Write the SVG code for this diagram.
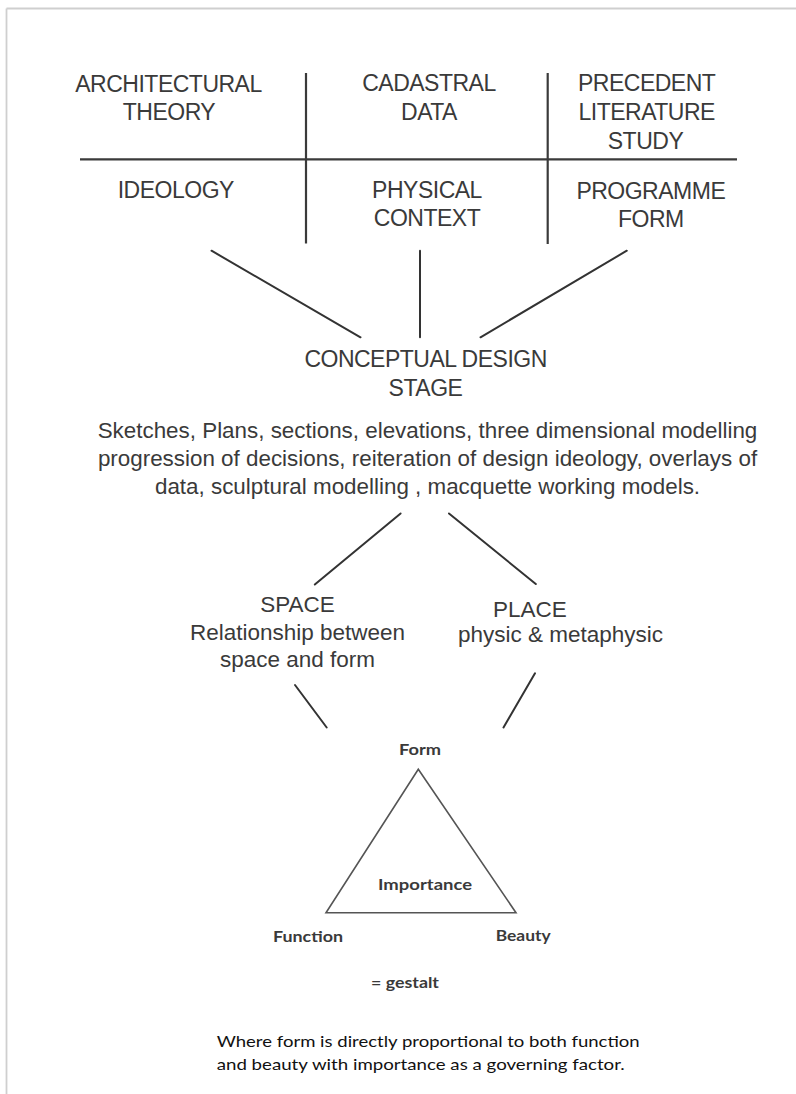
<svg xmlns="http://www.w3.org/2000/svg" width="796" height="1094" viewBox="0 0 796 1094">
<style>
.bg{fill:#ffffff}
.frame{stroke:#cfcfcf;stroke-width:1.8;fill:none}
.grid{stroke:#3a3a3a;stroke-width:2.2;fill:none}
.conn{stroke:#333333;stroke-width:2;fill:none;stroke-linecap:round}
.tri{stroke:#555555;stroke-width:1.6;fill:none;stroke-linejoin:miter}
.h{font-family:"Liberation Sans",Arial,sans-serif;font-size:23px;letter-spacing:-0.5px;fill:#3a3a3a;text-anchor:middle}
.p{font-family:"Liberation Sans",Arial,sans-serif;font-size:22.4px;fill:#3a3a3a;text-anchor:middle}
.s{font-family:"Liberation Sans",Arial,sans-serif;font-size:22.5px;fill:#3a3a3a;text-anchor:middle}
.c{font-family:Lato,"Open Sans",sans-serif;font-size:15.5px;font-weight:bold;fill:#3a3a3a}
.n{font-family:Lato,"Open Sans",sans-serif;font-size:16px;fill:#111111}
</style>
<rect class="bg" x="0" y="0" width="796" height="1094"/>
<g id="frame">
<line class="frame" x1="6.5" y1="8.5" x2="796" y2="8.5"/>
<line class="frame" x1="6.5" y1="8.5" x2="6.5" y2="1094"/>
</g>
<g id="grid">
<line class="grid" x1="80" y1="159.3" x2="737" y2="159.3"/>
<line class="grid" x1="306" y1="73" x2="306" y2="243.5"/>
<line class="grid" x1="547.7" y1="73" x2="547.7" y2="244"/>
</g>
<g id="node-architectural-theory">
<text class="h" x="168.5" y="91.5">ARCHITECTURAL</text>
<text class="h" x="169" y="120">THEORY</text>
</g>
<g id="node-cadastral-data">
<text class="h" x="429" y="91">CADASTRAL</text>
<text class="h" x="429" y="119.5">DATA</text>
</g>
<g id="node-precedent-literature-study">
<text class="h" x="646.7" y="91">PRECEDENT</text>
<text class="h" x="646.7" y="120">LITERATURE</text>
<text class="h" x="645.5" y="148.5">STUDY</text>
</g>
<g id="node-ideology">
<text class="h" x="175.8" y="197.5">IDEOLOGY</text>
</g>
<g id="node-physical-context">
<text class="h" x="427" y="197.5">PHYSICAL</text>
<text class="h" x="427" y="225.5">CONTEXT</text>
</g>
<g id="node-programme-form">
<text class="h" x="650.8" y="198.5">PROGRAMME</text>
<text class="h" x="650.8" y="226.7">FORM</text>
</g>
<g id="node-conceptual-design-stage">
<text class="h" x="425.6" y="366.7">CONCEPTUAL DESIGN</text>
<text class="h" x="425.5" y="395.7">STAGE</text>
</g>
<g id="node-design-activities">
<text class="p" x="427.5" y="438">Sketches, Plans, sections, elevations, three dimensional modelling</text>
<text class="p" x="427.5" y="466">progression of decisions, reiteration of design ideology, overlays of</text>
<text class="p" x="427.5" y="494">data, sculptural modelling , macquette working models.</text>
</g>
<g id="node-space">
<text class="s" x="297.5" y="612">SPACE</text>
<text class="s" x="297.5" y="640">Relationship between</text>
<text class="s" x="297.5" y="667">space and form</text>
</g>
<g id="node-place">
<text class="s" x="530" y="617">PLACE</text>
<text class="s" x="458" y="642" style="text-anchor:start">physic &amp; metaphysic</text>
</g>
<g id="node-triangle">
<polygon class="tri" points="418.3,769.3 516,912.7 326,912.7"/>
<text class="c" x="399" y="754.5" textLength="42" lengthAdjust="spacingAndGlyphs">Form</text>
<text class="c" x="378" y="890" textLength="94" lengthAdjust="spacingAndGlyphs">Importance</text>
<text class="c" x="273" y="941.5" textLength="70" lengthAdjust="spacingAndGlyphs">Function</text>
<text class="c" x="495.7" y="940.7" textLength="55" lengthAdjust="spacingAndGlyphs">Beauty</text>
</g>
<g id="node-gestalt">
<text class="c" x="371" y="987.7" textLength="68" lengthAdjust="spacingAndGlyphs">= gestalt</text>
</g>
<g id="node-note">
<text class="n" x="216.7" y="1047" textLength="423" lengthAdjust="spacingAndGlyphs">Where form is directly proportional to both function</text>
<text class="n" x="216.7" y="1070" textLength="408" lengthAdjust="spacingAndGlyphs">and beauty with importance as a governing factor.</text>
</g>
<g id="connectors">
<line class="conn" x1="211.5" y1="250.7" x2="360.5" y2="337.3"/>
<line class="conn" x1="420" y1="250.7" x2="420" y2="337.3"/>
<line class="conn" x1="626.8" y1="250.7" x2="480.5" y2="337.3"/>
<line class="conn" x1="400.6" y1="513.5" x2="314.8" y2="584.5"/>
<line class="conn" x1="449" y1="513.5" x2="535.8" y2="584"/>
<line class="conn" x1="295" y1="685" x2="326.7" y2="727.5"/>
<line class="conn" x1="535" y1="673.3" x2="503.5" y2="727.5"/>
</g>
</svg>
